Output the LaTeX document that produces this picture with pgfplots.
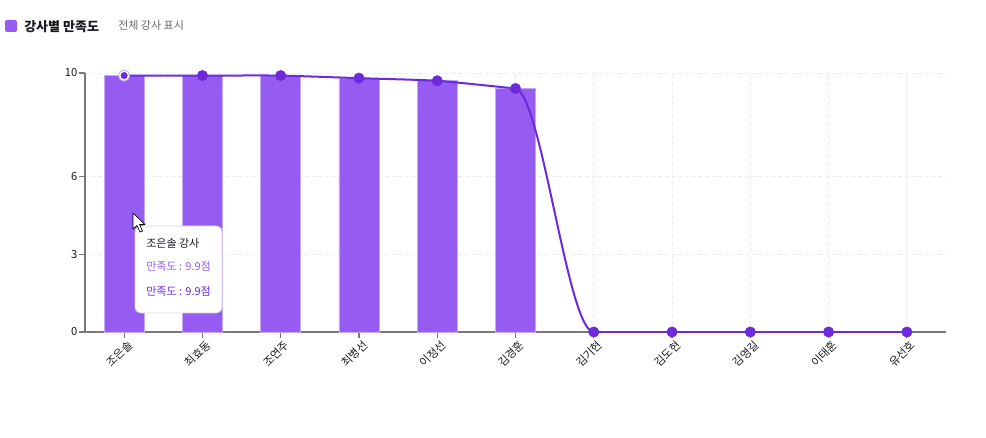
\documentclass[border=0pt]{standalone}
\usepackage{fontspec}
\setmainfont{Noto Sans CJK KR}
\usepackage{pgfplots}
\pgfplotsset{compat=1.18}

\definecolor{barfill}{RGB}{150,92,242}
\definecolor{bardraw}{RGB}{196,170,248}
\definecolor{linecol}{RGB}{110,42,218}
\definecolor{axisgray}{RGB}{120,120,124}
\definecolor{gridgray}{RGB}{236,236,238}
\definecolor{txt}{RGB}{25,25,30}
\definecolor{subtxt}{RGB}{105,105,112}

\begin{document}
\begin{tikzpicture}
\path[use as bounding box] (0,0) rectangle (739.5pt,328.5pt);
\begin{axis}[
  at={(63.75pt,79.5pt)}, anchor=south west,
  scale only axis, width=645.75pt, height=194.25pt,
  xmin=-0.5, xmax=10.5, ymin=0, ymax=10,
  xtick={0,...,10},
  xticklabels={조은솔,최효동,조연주,최병선,이정선,김경훈,김기현,김도현,김영길,이태훈,유선호},
  ytick={0,3,6,10},
  axis x line*=bottom, axis y line*=left,
  axis line style={draw=axisgray, line width=1.3pt},
  tick style={draw=axisgray, line width=0.9pt},
  major tick length=4.5pt, tick align=outside,
  grid=major, grid style={densely dashed, draw=gridgray, line width=0.7pt},
  tick label style={font=\fontsize{8.4pt}{9pt}\selectfont, text=txt},
  x tick label style={rotate=45, anchor=north east, inner sep=1pt, xshift=2pt, yshift=-1pt},
  y tick label style={inner sep=1pt},
  /pgf/number format/assume math mode=true,
  clip=false,
]
% bars: satisfaction per instructor
\addplot[ybar, bar width=30pt, fill=barfill, draw=bardraw, line width=0.6pt]
  coordinates {(0,9.9) (1,9.9) (2,9.9) (3,9.8) (4,9.7) (5,9.4)};
% line through the same values
\addplot[smooth, tension=0.3, linecol, line width=1.5pt]
  coordinates {(0,9.9) (1,9.9) (2,9.9) (3,9.8) (4,9.7) (5,9.4)};
\draw[linecol, line width=1.5pt]
  (axis cs:5,9.4) .. controls (axis cs:5.333,9.2) and (axis cs:5.667,0) .. (axis cs:6,0);
\addplot[sharp plot, linecol, line width=1.5pt]
  coordinates {(6,0) (7,0) (8,0) (9,0) (10,0)};
% markers
\addplot[only marks, mark=*, mark size=3.9pt, mark options={fill=linecol, draw=linecol}]
  coordinates {(1,9.9) (2,9.9) (3,9.8) (4,9.7) (5,9.4) (6,0) (7,0) (8,0) (9,0) (10,0)};
% active point
\addplot[only marks, mark=*, mark size=4.2pt, mark options={fill=white, draw=bardraw, line width=0.6pt}]
  coordinates {(0,9.9)};
\addplot[only marks, mark=*, mark size=2.4pt, mark options={fill=linecol, draw=linecol}]
  coordinates {(0,9.9)};
\end{axis}
\begin{scope}[x=0.75pt, y=-0.75pt, shift={(0,328.5pt)}]
  % legend
  \fill[barfill, rounded corners=1.5pt] (5,20) rectangle (17,32);
  \node[anchor=west, inner sep=0pt, text=txt, font=\fontsize{9.75pt}{11pt}\selectfont\bfseries] at (24,26.5) {강사별 만족도};
  \node[anchor=west, inner sep=0pt, text=subtxt, font=\fontsize{8.25pt}{9pt}\selectfont] at (118,25) {전체 강사 표시};
  % tooltip
  \filldraw[fill=white, draw=gridgray!80!gray, line width=0.6pt, rounded corners=4.5pt] (135,226) rectangle (222,313);
  \node[anchor=west, inner sep=0pt, text=txt, font=\fontsize{8.25pt}{9pt}\selectfont] at (146,243) {조은솔 강사};
  \node[anchor=west, inner sep=0pt, text=barfill, font=\fontsize{8.25pt}{9pt}\selectfont] at (146,266) {만족도 : 9.9점};
  \node[anchor=west, inner sep=0pt, text=linecol, font=\fontsize{8.25pt}{9pt}\selectfont] at (146,291) {만족도 : 9.9점};
  % cursor
  \filldraw[fill=white, draw=black, line width=0.5pt, line join=round]
    (133,213) -- (133,229) -- (137,225.5) -- (140,232) -- (142.5,231) -- (139.5,224.5) -- (145,224.5) -- cycle;
\end{scope}
\end{tikzpicture}
\end{document}
